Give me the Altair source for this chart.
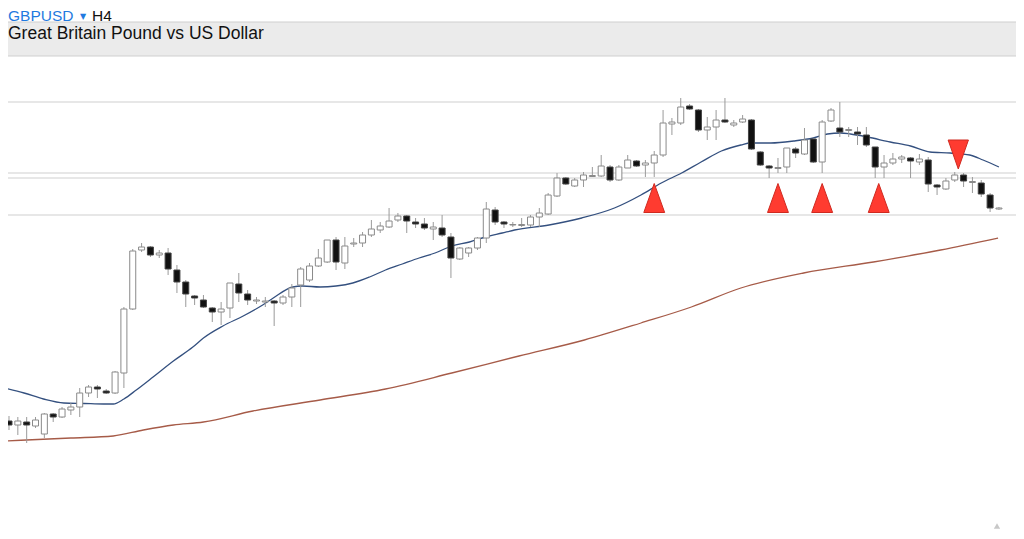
import altair as alt
import pandas as pd

# ---------------- data ----------------
idx = list(range(1, 114))

opens = [1.2058, 1.2050, 1.2056, 1.2048, 1.2032, 1.2072, 1.2066, 1.2080, 1.2086, 1.2114,
         1.2126, 1.2118, 1.2114, 1.2154, 1.2282, 1.2400, 1.2406, 1.2390, 1.2394, 1.2360,
         1.2336, 1.2308, 1.2300, 1.2284, 1.2276, 1.2284, 1.2332, 1.2312, 1.2298, 1.2296,
         1.2298, 1.2294, 1.2306, 1.2330, 1.2340, 1.2368, 1.2376, 1.2420, 1.2374, 1.2412,
         1.2414, 1.2430, 1.2440, 1.2446, 1.2460, 1.2468, 1.2456, 1.2452, 1.2442, 1.2444,
         1.2426, 1.2382, 1.2394, 1.2404, 1.2424, 1.2480, 1.2456, 1.2450, 1.2449, 1.2450,
         1.2466, 1.2472, 1.2508, 1.2544, 1.2528, 1.2540, 1.2547, 1.2548, 1.2566, 1.2540,
         1.2564, 1.2578, 1.2570, 1.2574, 1.2590, 1.2652, 1.2654, 1.2688, 1.2680, 1.2640,
         1.2646, 1.2660, 1.2650, 1.2656, 1.2660, 1.2596, 1.2568, 1.2563, 1.2566, 1.2602,
         1.2592, 1.2622, 1.2576, 1.2658, 1.2644, 1.2639, 1.2636, 1.2630, 1.2606, 1.2566,
         1.2574, 1.2582, 1.2584, 1.2576, 1.2580, 1.2530, 1.2522, 1.2540, 1.2550, 1.2535,
         1.2534, 1.2510, 1.2482]

highs = [1.2068, 1.2066, 1.2066, 1.2066, 1.2074, 1.2074, 1.2086, 1.2094, 1.2124, 1.2130,
         1.2130, 1.2122, 1.2158, 1.2286, 1.2402, 1.2414, 1.2408, 1.2400, 1.2404, 1.2370,
         1.2340, 1.2310, 1.2310, 1.2286, 1.2296, 1.2334, 1.2354, 1.2320, 1.2306, 1.2306,
         1.2300, 1.2310, 1.2332, 1.2366, 1.2374, 1.2402, 1.2420, 1.2426, 1.2426, 1.2424,
         1.2436, 1.2460, 1.2456, 1.2484, 1.2474, 1.2470, 1.2464, 1.2464, 1.2456, 1.2470,
         1.2434, 1.2406, 1.2406, 1.2426, 1.2496, 1.2486, 1.2458, 1.2456, 1.2464, 1.2470,
         1.2484, 1.2514, 1.2554, 1.2546, 1.2544, 1.2556, 1.2566, 1.2590, 1.2570, 1.2570,
         1.2590, 1.2580, 1.2580, 1.2598, 1.2680, 1.2664, 1.2704, 1.2692, 1.2682, 1.2666,
         1.2680, 1.2704, 1.2660, 1.2670, 1.2662, 1.2598, 1.2570, 1.2584, 1.2604, 1.2606,
         1.2644, 1.2624, 1.2660, 1.2684, 1.2696, 1.2646, 1.2646, 1.2646, 1.2606, 1.2590,
         1.2594, 1.2590, 1.2586, 1.2592, 1.2586, 1.2532, 1.2544, 1.2556, 1.2554, 1.2546,
         1.2540, 1.2514, 1.2486]

lows = [1.2040, 1.2030, 1.2014, 1.2044, 1.2024, 1.2056, 1.2064, 1.2070, 1.2066, 1.2106,
        1.2104, 1.2112, 1.2112, 1.2124, 1.2280, 1.2396, 1.2386, 1.2384, 1.2350, 1.2314,
        1.2286, 1.2290, 1.2284, 1.2256, 1.2250, 1.2264, 1.2296, 1.2290, 1.2292, 1.2286,
        1.2248, 1.2290, 1.2286, 1.2286, 1.2336, 1.2366, 1.2374, 1.2360, 1.2362, 1.2406,
        1.2406, 1.2426, 1.2434, 1.2444, 1.2456, 1.2434, 1.2444, 1.2440, 1.2420, 1.2426,
        1.2344, 1.2380, 1.2386, 1.2400, 1.2414, 1.2450, 1.2444, 1.2446, 1.2446, 1.2446,
        1.2446, 1.2470, 1.2506, 1.2530, 1.2526, 1.2526, 1.2546, 1.2546, 1.2536, 1.2538,
        1.2564, 1.2566, 1.2546, 1.2546, 1.2586, 1.2630, 1.2650, 1.2680, 1.2636, 1.2620,
        1.2620, 1.2654, 1.2646, 1.2654, 1.2600, 1.2568, 1.2544, 1.2554, 1.2554, 1.2584,
        1.2590, 1.2574, 1.2554, 1.2656, 1.2626, 1.2626, 1.2610, 1.2606, 1.2544, 1.2544,
        1.2570, 1.2574, 1.2544, 1.2570, 1.2516, 1.2510, 1.2520, 1.2536, 1.2526, 1.2514,
        1.2506, 1.2476, 1.2480]

closes = [1.2050, 1.2058, 1.2050, 1.2060, 1.2072, 1.2066, 1.2082, 1.2086, 1.2114, 1.2126,
          1.2122, 1.2114, 1.2156, 1.2282, 1.2398, 1.2406, 1.2390, 1.2394, 1.2362, 1.2336,
          1.2312, 1.2304, 1.2286, 1.2276, 1.2282, 1.2334, 1.2314, 1.2300, 1.2300, 1.2298,
          1.2294, 1.2306, 1.2324, 1.2362, 1.2368, 1.2384, 1.2420, 1.2376, 1.2408, 1.2414,
          1.2430, 1.2442, 1.2448, 1.2458, 1.2468, 1.2458, 1.2452, 1.2444, 1.2446, 1.2430,
          1.2384, 1.2404, 1.2404, 1.2424, 1.2482, 1.2456, 1.2452, 1.2451, 1.2451, 1.2466,
          1.2474, 1.2510, 1.2544, 1.2532, 1.2540, 1.2550, 1.2549, 1.2568, 1.2540, 1.2566,
          1.2580, 1.2568, 1.2574, 1.2590, 1.2654, 1.2656, 1.2686, 1.2682, 1.2640, 1.2646,
          1.2660, 1.2656, 1.2654, 1.2662, 1.2602, 1.2570, 1.2564, 1.2565, 1.2604, 1.2594,
          1.2620, 1.2576, 1.2656, 1.2680, 1.2636, 1.2641, 1.2632, 1.2610, 1.2566, 1.2574,
          1.2582, 1.2586, 1.2578, 1.2582, 1.2532, 1.2526, 1.2538, 1.2550, 1.2538, 1.2537,
          1.2512, 1.2484, 1.2484]

# fast moving average (blue), read at positions along the bar index
fast_i = [0.44, 2.7, 4.9, 7.2, 9.5, 11.7, 12.8, 14.0, 15.4, 17.3, 19.6, 21.8, 23.0, 25.2,
          27.5, 29.7, 30.9, 33.1, 34.2, 36.2, 38.0, 39.9, 41.8, 43.6, 45.5, 47.4, 49.2,
          51.1, 53.1, 54.9, 56.8, 58.2, 62.1, 65.8, 69.5, 72.5, 74.8, 77.1, 79.3, 81.6,
          83.8, 84.9, 87.2, 89.8, 92.0, 93.6, 95.1, 96.2, 98.1, 100.7, 103.0, 105.2,
          107.5, 109.7, 111.2, 113.0]
fast_v = [1.2124, 1.2114, 1.2102, 1.2094, 1.2093, 1.2092, 1.2092, 1.2102, 1.2120, 1.2146,
          1.2178, 1.2206, 1.2224, 1.2248, 1.2268, 1.2290, 1.2304, 1.2326, 1.2328, 1.2326,
          1.2328, 1.2334, 1.2346, 1.2360, 1.2372, 1.2384, 1.2394, 1.2408, 1.2416, 1.2426,
          1.2434, 1.2440, 1.2450, 1.2464, 1.2484, 1.2510, 1.2534, 1.2554, 1.2576, 1.2598,
          1.2610, 1.2614, 1.2614, 1.2618, 1.2624, 1.2632, 1.2634, 1.2632, 1.2626, 1.2616,
          1.2608, 1.2596, 1.2594, 1.2590, 1.2580, 1.2566]

# slow moving average (brown)
slow_i = [0.44, 8.0, 12.8, 16.2, 19.6, 23.0, 28.6, 36.2, 43.6, 51.1, 58.7, 66.1, 72.5,
          78.2, 83.8, 90.9, 98.8, 106.4, 112.9]
slow_v = [1.2018, 1.2024, 1.2028, 1.2040, 1.2050, 1.2056, 1.2078, 1.2100, 1.2122, 1.2154,
          1.2188, 1.2220, 1.2254, 1.2286, 1.2324, 1.2354, 1.2376, 1.2400, 1.2424]

levels = [1.2696, 1.2554, 1.2544, 1.2470]

buy_i = [74, 88, 93, 99.4]
buy_v = [1.2504, 1.2504, 1.2504, 1.2504]
sell_i = [108.4]
sell_v = [1.2591]

symbol = "GBPUSD"
timeframe = "H4"
description = "Great Britain Pound vs US Dollar"

# ---------------- chart ----------------
W, H = 1008, 523
FONT = "Liberation Sans"
xs = alt.Scale(domain=[0.887, 114.93], nice=False, zero=False, padding=0)
ys = alt.Scale(domain=[1.1838, 1.2884], nice=False, zero=False, padding=0)

candles = pd.DataFrame({"i": idx, "open": opens, "high": highs,
                        "low": lows, "close": closes})
one = pd.DataFrame({"a": [0]})

band = alt.Chart(one).mark_rect(fill="#ebebeb", stroke="#cfcfcf", strokeWidth=1).encode(
    x=alt.value(-2), x2=alt.value(W + 2), y=alt.value(14), y2=alt.value(48))

t_sym = alt.Chart(one).mark_text(text=symbol, align="left", baseline="alphabetic",
                                 font=FONT, fontSize=15.5, color="#1f7ae0").encode(
    x=alt.value(0), y=alt.value(12.5))
t_arrow = alt.Chart(one).mark_text(text="▼", align="center", baseline="alphabetic",
                                   font="DejaVu Sans", fontSize=8, color="#1f7ae0").encode(
    x=alt.value(75), y=alt.value(10.5))
t_tf = alt.Chart(one).mark_text(text=timeframe, align="left", baseline="alphabetic",
                                font=FONT, fontSize=15.5, color="#111111").encode(
    x=alt.value(84), y=alt.value(12.5))
t_desc = alt.Chart(one).mark_text(text=description, align="left", baseline="alphabetic",
                                  font=FONT, fontSize=17.5, color="#111111").encode(
    x=alt.value(0), y=alt.value(31))

lv = alt.Chart(pd.DataFrame({"p": levels})).mark_rule(color="#cfcfcf", strokeWidth=1).encode(
    y=alt.Y("p:Q", scale=ys, axis=None))

fast_line = alt.Chart(pd.DataFrame({"i": fast_i, "v": fast_v})).mark_line(
    color="#34507f", strokeWidth=1.3, clip=True, interpolate="monotone").encode(
    x=alt.X("i:Q", scale=xs, axis=None), y=alt.Y("v:Q", scale=ys, axis=None))
slow_line = alt.Chart(pd.DataFrame({"i": slow_i, "v": slow_v})).mark_line(
    color="#a65b48", strokeWidth=1.3, clip=True, interpolate="monotone").encode(
    x=alt.X("i:Q", scale=xs, axis=None), y=alt.Y("v:Q", scale=ys, axis=None))

wick = alt.Chart(candles).mark_rule(color="#9a9a9a", strokeWidth=1).encode(
    x=alt.X("i:Q", scale=xs, axis=None),
    y=alt.Y("low:Q", scale=ys, axis=None), y2="high:Q")
body = alt.Chart(candles).mark_bar(size=6, strokeWidth=1).encode(
    x=alt.X("i:Q", scale=xs, axis=None),
    y=alt.Y("open:Q", scale=ys, axis=None), y2="close:Q",
    fill=alt.condition("datum.close >= datum.open", alt.value("#ffffff"), alt.value("#111111")),
    stroke=alt.condition("datum.close >= datum.open", alt.value("#8a8a8a"), alt.value("#444444")))

buy = alt.Chart(pd.DataFrame({"i": buy_i, "v": buy_v})).mark_point(
    shape="M0,-1 L0.72,1 L-0.72,1 Z", size=841, filled=True, fill="#ff3b30",
    stroke="#cf2a20", strokeWidth=1, opacity=1).encode(
    x=alt.X("i:Q", scale=xs, axis=None), y=alt.Y("v:Q", scale=ys, axis=None))
sell = alt.Chart(pd.DataFrame({"i": sell_i, "v": sell_v})).mark_point(
    shape="M-0.7,-1 L0.7,-1 L0,1 Z", size=841, filled=True, fill="#ff3b30",
    stroke="#cf2a20", strokeWidth=1, opacity=1).encode(
    x=alt.X("i:Q", scale=xs, axis=None), y=alt.Y("v:Q", scale=ys, axis=None))

grip = alt.Chart(one).mark_point(shape="triangle-up", size=40, filled=True,
                                 fill="#c8c8c8", opacity=1).encode(
    x=alt.value(989), y=alt.value(518))

chart = alt.layer(band, t_sym, t_arrow, t_tf, t_desc, lv, slow_line, fast_line,
                  wick, body, buy, sell, grip).properties(
    width=W, height=H, padding=0, autosize="none", background="#ffffff"
).configure_view(stroke=None)

chart.save("out.html", embed_options={"renderer": "svg", "actions": False})
